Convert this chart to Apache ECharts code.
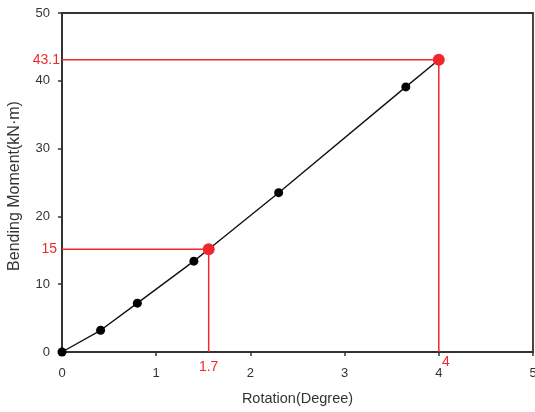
<!DOCTYPE html>
<html><head><meta charset="utf-8">
<script src="https://cdn.jsdelivr.net/npm/echarts@6/dist/echarts.min.js"></script>
<style>html,body{margin:0;padding:0;background:#fff}#c{width:535px;height:412px}</style>
</head><body><div id="c"></div>
<script>
// Data
const rotation = [0, 0.41, 0.80, 1.40, 1.557, 2.30, 3.65, 4.0];
const moment   = [0, 3.2, 7.2, 13.4, 15.15, 23.5, 39.1, 43.1];
const keyX = [1.557, 4.0];
const keyY = [15.15, 43.1];
const keyXLabels = ['1.7', '4'];
const keyYLabels = ['15', '43.1'];
const xTicks = [0, 1, 2, 3, 4, 5];
const yTicks = [0, 10, 20, 30, 40, 50];

const RED = '#f0282d';
const FONT = 'Liberation Sans, Arial, sans-serif';

const mainData = rotation.map((x, i) => [x, moment[i]]);
const isKey = (x) => keyX.indexOf(x) >= 0;

const guideSeries = keyX.map((x, i) => ({
  type: 'line',
  data: [
    { value: [0, keyY[i]], label: { show: true, position: 'left', distance: i === 0 ? 5 : 2, formatter: keyYLabels[i] } },
    { value: [x, keyY[i]] },
    { value: [x, 0], label: { show: true, position: 'bottom', distance: i === 0 ? 8 : 3, offset: i === 0 ? [0, 0] : [7, 0], formatter: keyXLabels[i] } }
  ],
  symbol: 'circle', symbolSize: 0,
  lineStyle: { color: RED, width: 1.5 },
  itemStyle: { color: RED },
  label: { show: false, color: RED, fontSize: 14, fontFamily: FONT },
  silent: true, z: 1, animation: false
}));

const option = {
  animation: false,
  grid: { left: 62, right: 2, top: 13, bottom: 60, containLabel: false, outerBoundsMode: 'none',
          show: true, borderColor: '#333', borderWidth: 1.8, backgroundColor: 'transparent' },
  xAxis: {
    type: 'value', min: 0, max: 5, interval: 1,
    name: 'Rotation(Degree)', nameLocation: 'middle', nameGap: 39,
    nameTextStyle: { fontSize: 14.5, color: '#333', fontFamily: FONT },
    axisLine: { show: true, lineStyle: { color: '#333', width: 2 } },
    axisTick: { show: true, length: 4, lineStyle: { color: '#333', width: 1.5 } },
    axisLabel: { margin: 15, fontSize: 13, color: '#333', fontFamily: FONT, formatter: v => xTicks.indexOf(v) >= 0 ? String(v) : '' },
    splitLine: { show: false }
  },
  yAxis: {
    type: 'value', min: 0, max: 50, interval: 10,
    name: 'Bending Moment(kN·m)', nameLocation: 'middle', nameGap: 39,
    nameTextStyle: { fontSize: 16, color: '#333', fontFamily: FONT, padding: [0, 7, 0, 0] },
    axisLine: { show: true, lineStyle: { color: '#333', width: 2 } },
    axisTick: { show: true, length: 4, lineStyle: { color: '#333', width: 1.5 } },
    axisLabel: { margin: 12, fontSize: 13, color: '#333', fontFamily: FONT, formatter: v => yTicks.indexOf(v) >= 0 ? String(v) : '' },
    splitLine: { show: false }
  },
  series: [
    ...guideSeries,
    {
      type: 'line',
      data: mainData.map(d => ({ value: d, symbolSize: isKey(d[0]) ? 0 : 9 })),
      symbol: 'circle',
      lineStyle: { color: '#111', width: 1.4 },
      itemStyle: { color: '#000' },
      z: 3
    },
    {
      type: 'scatter',
      data: keyX.map((x, i) => [x, keyY[i]]),
      symbol: 'circle', symbolSize: 12,
      itemStyle: { color: RED, opacity: 1 },
      z: 4
    }
  ]
};
echarts.init(document.getElementById('c'), null, { renderer: 'canvas' }).setOption(option);
</script></body></html>
